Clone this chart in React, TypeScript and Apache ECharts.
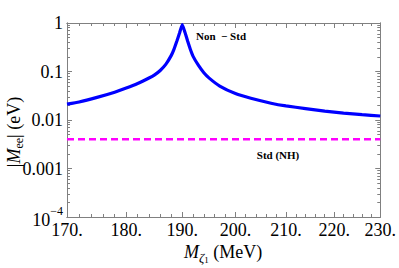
import React, { useEffect, useRef } from "react";
import * as echarts from "echarts";

// Reference data
const massMeV = [170, 172, 175, 178, 180, 182, 184, 185, 186, 187, 188, 188.5, 189, 189.5, 190, 190.5, 191, 191.5, 192, 193, 194, 195, 197, 200, 203, 207, 210, 214, 218, 222, 226, 230];
const nonStd = [0.0212, 0.0235, 0.0293, 0.0375, 0.0455, 0.0565, 0.0735, 0.0855, 0.105, 0.14, 0.215, 0.29, 0.42, 0.62, 0.93, 0.64, 0.42, 0.285, 0.205, 0.133, 0.094, 0.073, 0.05, 0.035, 0.028, 0.0222, 0.0195, 0.0172, 0.0152, 0.0139, 0.0129, 0.0121];
const stdMass = [170, 230];
const stdNH = [0.004, 0.004];

const xMajorTicks = [170, 180, 190, 200, 210, 220, 230];
const xMinorTicks = [172, 174, 176, 178, 182, 184, 186, 188, 192, 194, 196, 198, 202, 204, 206, 208, 212, 214, 216, 218, 222, 224, 226, 228];
const yMajorTicks = [0.0001, 0.001, 0.01, 0.1, 1];
const yMinorTicks = [
  0.0002, 0.0003, 0.0004, 0.0005, 0.0006, 0.0007, 0.0008, 0.0009,
  0.002, 0.003, 0.004, 0.005, 0.006, 0.007, 0.008, 0.009,
  0.02, 0.03, 0.04, 0.05, 0.06, 0.07, 0.08, 0.09,
  0.2, 0.3, 0.4, 0.5, 0.6, 0.7, 0.8, 0.9,
];
const yTickLabels = ["1", "0.1", "0.01", "0.001"];

const FONT = "Liberation Serif";
const FRAME = "#808080";
const LX0 = Math.log10(170);
const LX1 = Math.log10(230);

function xAxisDef(pos: string, ticks: number[], len: number, labels: boolean) {
  return {
    type: "value",
    min: LX0,
    max: LX1,
    position: pos,
    axisLine: { show: true, onZero: false, lineStyle: { color: FRAME, width: 1 } },
    axisTick: { show: true, inside: true, length: len, customValues: ticks.map(Math.log10), lineStyle: { color: FRAME, width: 1 } },
    axisLabel: labels
      ? {
          show: true,
          customValues: ticks.map(Math.log10),
          margin: 4,
          color: "#000",
          fontFamily: FONT,
          fontSize: 18,
          formatter: (v: number) => Math.round(Math.pow(10, v)) + ".",
        }
      : { show: false },
    splitLine: { show: false },
  };
}

function yAxisDef(pos: string, ticks: number[], len: number, labels: boolean) {
  return {
    type: "value",
    min: -4,
    max: 0,
    position: pos,
    axisLine: { show: true, onZero: false, lineStyle: { color: FRAME, width: 1 } },
    axisTick: { show: true, inside: true, length: len, customValues: ticks.map(Math.log10), lineStyle: { color: FRAME, width: 1 } },
    axisLabel: labels
      ? {
          show: true,
          customValues: ticks.map((t) => Math.round(Math.log10(t))),
          margin: 4,
          color: "#000",
          fontFamily: FONT,
          fontSize: 18,
          formatter: (v: number) => {
            const e = Math.round(v);
            if (e === -4) return "{n|10}{s|−4}";
            return yTickLabels[-e];
          },
          rich: {
            n: { fontFamily: FONT, fontSize: 18, lineHeight: 24, color: "#000", verticalAlign: "bottom" },
            s: { fontFamily: FONT, fontSize: 12, lineHeight: 12, verticalAlign: "top", color: "#000" },
          },
        }
      : { show: false },
    splitLine: { show: false },
  };
}

export default function App() {
  const ref = useRef<HTMLDivElement>(null);
  useEffect(() => {
    if (!ref.current) return;
    const chart = echarts.init(ref.current, null, { renderer: "svg" });
    const blue = massMeV.map((m, i) => [Math.log10(m), Math.log10(nonStd[i])]);
    const magenta = stdMass.map((m, i) => [Math.log10(m), Math.log10(stdNH[i])]);
    chart.setOption({
      animation: false,
      backgroundColor: "#fff",
      grid: { left: 67, right: 18, top: 23, bottom: 51 },
      xAxis: [
        xAxisDef("bottom", xMajorTicks, 5, true),
        xAxisDef("top", xMajorTicks, 5, false),
        xAxisDef("bottom", xMinorTicks, 3, false),
        xAxisDef("top", xMinorTicks, 3, false),
      ],
      yAxis: [
        yAxisDef("left", yMajorTicks, 5, true),
        yAxisDef("right", yMajorTicks, 5, false),
        yAxisDef("left", yMinorTicks, 3, false),
        yAxisDef("right", yMinorTicks, 3, false),
      ],
      series: [
        {
          type: "line",
          xAxisIndex: 0,
          yAxisIndex: 0,
          data: magenta,
          showSymbol: false,
          symbol: "none",
          lineStyle: { color: "#ff00ff", width: 2.5, type: [7, 4] },
          z: 3,
        },
        {
          type: "line",
          xAxisIndex: 0,
          yAxisIndex: 0,
          data: blue,
          showSymbol: false,
          symbol: "none",
          smooth: 0.15,
          lineStyle: { color: "#0000ff", width: 3.2 },
          z: 4,
        },
      ],
      graphic: [
        {
          type: "text",
          x: 221,
          y: 36,
          style: { text: "Non  − Std", fontFamily: FONT, fontWeight: "bold", fontSize: 11, fill: "#000", align: "center", verticalAlign: "middle" },
        },
        {
          type: "text",
          x: 278,
          y: 155,
          style: { text: "Std (NH)", fontFamily: FONT, fontWeight: "bold", fontSize: 11, fill: "#000", align: "center", verticalAlign: "middle" },
        },
        {
          type: "text",
          x: 14,
          y: 132,
          rotation: Math.PI / 2,
          style: {
            text: "{t||}{m|M}{sb|ee}{t|| (eV)}",
            align: "center",
            verticalAlign: "middle",
            rich: {
              t: { fontFamily: FONT, fontSize: 18, lineHeight: 22, fill: "#000" },
              m: { fontFamily: FONT, fontSize: 18, fontStyle: "italic", lineHeight: 22, fill: "#000" },
              sb: { fontFamily: FONT, fontSize: 12, lineHeight: 12, verticalAlign: "bottom", fill: "#000" },
            },
          },
        },
        {
          type: "text",
          x: 223,
          y: 252,
          style: {
            text: "{m|M}{sb|ζ}{s1|1}{t| (MeV)}",
            align: "center",
            verticalAlign: "middle",
            rich: {
              t: { fontFamily: FONT, fontSize: 18, lineHeight: 24, fill: "#000" },
              m: { fontFamily: FONT, fontSize: 18, fontStyle: "italic", lineHeight: 24, fill: "#000" },
              sb: { fontFamily: FONT, fontSize: 13, fontStyle: "italic", lineHeight: 14, verticalAlign: "bottom", fill: "#000" },
              s1: { fontFamily: FONT, fontSize: 9, lineHeight: 9, verticalAlign: "bottom", fill: "#000" },
            },
          },
        },
      ],
    });
    return () => chart.dispose();
  }, []);
  return <div ref={ref} style={{ position: "fixed", left: 0, top: 0, width: 399, height: 268 }} />;
}
